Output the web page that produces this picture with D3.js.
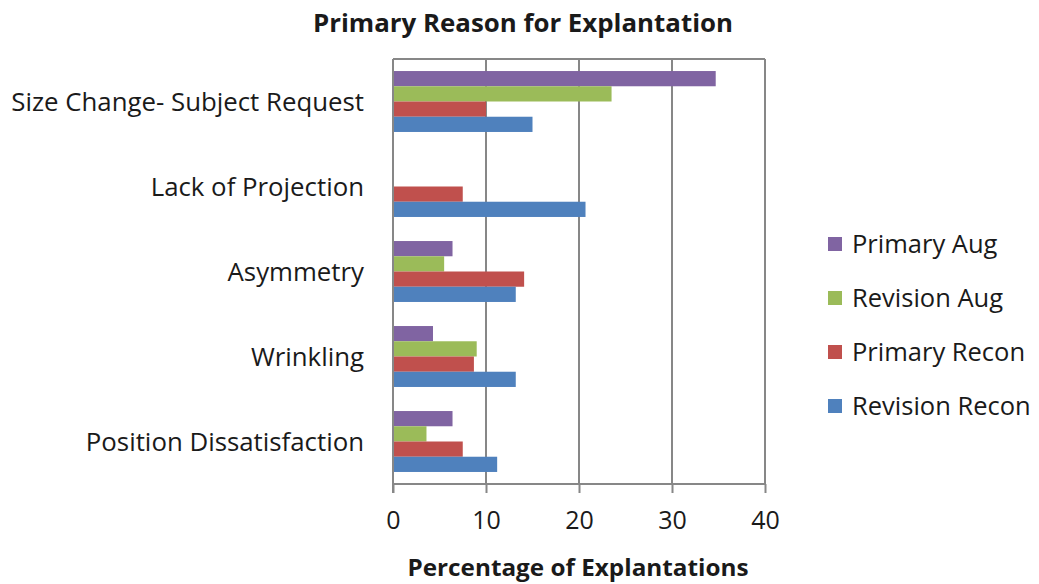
<!DOCTYPE html>
<html>
<head>
<meta charset="utf-8">
<script src="https://cdn.jsdelivr.net/npm/d3@7"></script>
<style>
  html, body { margin: 0; padding: 0; background: #fff; }
  svg { display: block; }
  text { font-family: "Open Sans", Lato, sans-serif; fill: #1a1a1a; }
</style>
</head>
<body>
<svg id="chart" width="1039" height="584"></svg>
<script>
// Reasons for explantation, percentage of explantations per group
const categories = [
  "Size Change- Subject Request",
  "Lack of Projection",
  "Asymmetry",
  "Wrinkling",
  "Position Dissatisfaction"
];
const seriesNames = ["Primary Aug", "Revision Aug", "Primary Recon", "Revision Recon"];
const primaryAug    = [34.7, 0,    6.4,  4.3, 6.4];
const revisionAug   = [23.5, 0,    5.5,  9.0, 3.6];
const primaryRecon  = [10.0, 7.5,  14.1, 8.7, 7.5];
const revisionRecon = [15.0, 20.7, 13.2, 13.2, 11.2];
const xTicks = [0, 10, 20, 30, 40];
const seriesColors = ["#8064A2", "#9BBB59", "#C0504D", "#4F81BD"];

const seriesValues = [primaryAug, revisionAug, primaryRecon, revisionRecon];
const rows = categories.map((c, i) => ({
  category: c,
  values: seriesNames.map((s, j) => ({ series: s, value: seriesValues[j][i], color: seriesColors[j] }))
}));

const svg = d3.select("#chart");
const plot = { left: 393, right: 765, top: 59, bottom: 484 };
const gridColor = "#878787";

const x = d3.scaleLinear().domain([0, 40]).range([plot.left, plot.right]);
const y0 = d3.scaleBand().domain(categories).range([plot.top, plot.bottom]).padding(0);
const y1 = d3.scaleBand().domain(seriesNames).range([0, y0.bandwidth()])
  .paddingInner(0).paddingOuter(0.79);

// Vertical gridlines
svg.append("g")
  .selectAll("line")
  .data(xTicks.slice(1))
  .join("line")
  .attr("x1", d => x(d)).attr("x2", d => x(d))
  .attr("y1", plot.top).attr("y2", plot.bottom)
  .attr("stroke", gridColor).attr("stroke-width", 2);

// Plot frame top
svg.append("line")
  .attr("x1", plot.left).attr("x2", plot.right)
  .attr("y1", plot.top).attr("y2", plot.top)
  .attr("stroke", gridColor).attr("stroke-width", 2);

// Bars
const groups = svg.append("g")
  .selectAll("g")
  .data(rows)
  .join("g")
  .attr("transform", d => `translate(0,${y0(d.category)})`);

groups.selectAll("rect")
  .data(d => d.values)
  .join("rect")
  .attr("x", x(0))
  .attr("y", d => y1(d.series))
  .attr("width", d => x(d.value) - x(0))
  .attr("height", y1.bandwidth())
  .attr("fill", d => d.color);

// Left axis line (category axis)
svg.append("line")
  .attr("x1", plot.left).attr("x2", plot.left)
  .attr("y1", plot.top).attr("y2", plot.bottom + 9)
  .attr("stroke", gridColor).attr("stroke-width", 2);

// Category labels
svg.append("g")
  .selectAll("text")
  .data(categories)
  .join("text")
  .attr("x", 364)
  .attr("y", d => y0(d) + y0.bandwidth() / 2)
  .attr("dy", "0.36em")
  .attr("text-anchor", "end")
  .attr("font-size", 25.8)
  .text(d => d);

// Bottom value axis
const xAxis = d3.axisBottom(x).tickValues(xTicks).tickSize(9).tickPadding(18).tickFormat(d3.format("d"));
const gx = svg.append("g")
  .attr("transform", `translate(0,${plot.bottom})`)
  .call(xAxis);
gx.select(".domain").attr("stroke", gridColor).attr("stroke-width", 2)
  .attr("d", `M${plot.left},0H${plot.right}`);
gx.selectAll(".tick line").attr("stroke", gridColor).attr("stroke-width", 2);
gx.selectAll(".tick text")
  .attr("font-family", "'Open Sans', Lato, sans-serif")
  .attr("font-size", 25)
  .attr("fill", "#1a1a1a");

// Title
svg.append("text")
  .attr("x", 523).attr("y", 32)
  .attr("text-anchor", "middle")
  .attr("font-size", 25).attr("font-weight", "bold")
  .attr("textLength", 420).attr("lengthAdjust", "spacingAndGlyphs")
  .attr("fill", "#000")
  .text("Primary Reason for Explantation");

// Axis title
svg.append("text")
  .attr("x", 578).attr("y", 576)
  .attr("text-anchor", "middle")
  .attr("font-size", 23).attr("font-weight", "bold")
  .attr("textLength", 341).attr("lengthAdjust", "spacingAndGlyphs")
  .attr("fill", "#000")
  .text("Percentage of Explantations");

// Legend
const legend = svg.append("g")
  .selectAll("g")
  .data(seriesNames.map((s, i) => ({ name: s, color: seriesColors[i] })))
  .join("g")
  .attr("transform", (d, i) => `translate(828,${244 + i * 54})`);
legend.append("rect")
  .attr("x", 0).attr("y", -7).attr("width", 14).attr("height", 14)
  .attr("fill", d => d.color);
legend.append("text")
  .attr("x", 24).attr("y", 0).attr("dy", "0.36em")
  .attr("font-size", 25.5)
  .text(d => d.name);
</script>
</body>
</html>
